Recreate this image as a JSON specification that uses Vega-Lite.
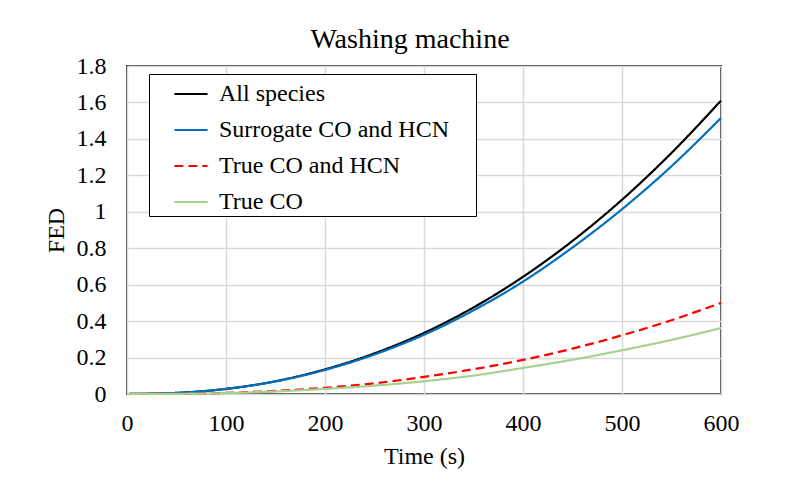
{
  "$schema": "https://vega.github.io/schema/vega-lite/v6.json",
  "width": 594,
  "height": 328,
  "autosize": "none",
  "padding": {"left": 127, "top": 66, "right": 79, "bottom": 94},
  "background": "white",
  "title": {
    "text": "Washing machine",
    "font": "Liberation Serif",
    "fontSize": 28,
    "fontWeight": "normal",
    "color": "black",
    "anchor": "middle",
    "dx": -14,
    "offset": 0
  },
  "config": {
    "view": {"stroke": "#404040", "strokeWidth": 2},
    "axis": {
      "labelFont": "Liberation Serif",
      "titleFont": "Liberation Serif",
      "labelFontSize": 24,
      "titleFontSize": 24,
      "titleFontWeight": "normal",
      "labelColor": "black",
      "titleColor": "black",
      "gridColor": "#d9d9d9",
      "gridWidth": 1.5,
      "ticks": false,
      "domain": false
    }
  },
  "data": {
    "values": [
      {"t": 0, "series": "All species", "v": 0},
      {"t": 50, "series": "All species", "v": 0.006},
      {"t": 100, "series": "All species", "v": 0.028},
      {"t": 150, "series": "All species", "v": 0.07},
      {"t": 200, "series": "All species", "v": 0.135},
      {"t": 250, "series": "All species", "v": 0.223},
      {"t": 300, "series": "All species", "v": 0.335},
      {"t": 350, "series": "All species", "v": 0.475},
      {"t": 400, "series": "All species", "v": 0.643},
      {"t": 450, "series": "All species", "v": 0.84},
      {"t": 500, "series": "All species", "v": 1.066},
      {"t": 550, "series": "All species", "v": 1.323},
      {"t": 600, "series": "All species", "v": 1.61},
      {"t": 0, "series": "Surrogate CO and HCN", "v": 0},
      {"t": 50, "series": "Surrogate CO and HCN", "v": 0.006},
      {"t": 100, "series": "Surrogate CO and HCN", "v": 0.028},
      {"t": 150, "series": "Surrogate CO and HCN", "v": 0.069},
      {"t": 200, "series": "Surrogate CO and HCN", "v": 0.132},
      {"t": 250, "series": "Surrogate CO and HCN", "v": 0.217},
      {"t": 300, "series": "Surrogate CO and HCN", "v": 0.325},
      {"t": 350, "series": "Surrogate CO and HCN", "v": 0.459},
      {"t": 400, "series": "Surrogate CO and HCN", "v": 0.617},
      {"t": 450, "series": "Surrogate CO and HCN", "v": 0.804},
      {"t": 500, "series": "Surrogate CO and HCN", "v": 1.014},
      {"t": 550, "series": "Surrogate CO and HCN", "v": 1.25},
      {"t": 600, "series": "Surrogate CO and HCN", "v": 1.515},
      {"t": 0, "series": "True CO and HCN", "v": 0},
      {"t": 50, "series": "True CO and HCN", "v": 0.001},
      {"t": 100, "series": "True CO and HCN", "v": 0.006},
      {"t": 150, "series": "True CO and HCN", "v": 0.017},
      {"t": 200, "series": "True CO and HCN", "v": 0.034},
      {"t": 250, "series": "True CO and HCN", "v": 0.059},
      {"t": 300, "series": "True CO and HCN", "v": 0.094},
      {"t": 350, "series": "True CO and HCN", "v": 0.136},
      {"t": 400, "series": "True CO and HCN", "v": 0.187},
      {"t": 450, "series": "True CO and HCN", "v": 0.249},
      {"t": 500, "series": "True CO and HCN", "v": 0.322},
      {"t": 550, "series": "True CO and HCN", "v": 0.405},
      {"t": 600, "series": "True CO and HCN", "v": 0.5},
      {"t": 0, "series": "True CO", "v": 0},
      {"t": 50, "series": "True CO", "v": 0.001},
      {"t": 100, "series": "True CO", "v": 0.005},
      {"t": 150, "series": "True CO", "v": 0.014},
      {"t": 200, "series": "True CO", "v": 0.028},
      {"t": 250, "series": "True CO", "v": 0.046},
      {"t": 300, "series": "True CO", "v": 0.07},
      {"t": 350, "series": "True CO", "v": 0.101},
      {"t": 400, "series": "True CO", "v": 0.143},
      {"t": 450, "series": "True CO", "v": 0.188},
      {"t": 500, "series": "True CO", "v": 0.24},
      {"t": 550, "series": "True CO", "v": 0.297},
      {"t": 600, "series": "True CO", "v": 0.362}
    ]
  },
  "mark": {"type": "line", "interpolate": "monotone", "strokeWidth": 2.2, "clip": false},
  "encoding": {
    "x": {
      "field": "t",
      "type": "quantitative",
      "title": "Time (s)",
      "scale": {"domain": [0, 600], "nice": false},
      "axis": {"values": [0, 100, 200, 300, 400, 500, 600], "labelPadding": 17, "titlePadding": 9, "labelFlush": false}
    },
    "y": {
      "field": "v",
      "type": "quantitative",
      "title": "FED",
      "scale": {"domain": [0, 1.8], "nice": false},
      "axis": {"values": [0, 0.2, 0.4, 0.6, 0.8, 1, 1.2, 1.4, 1.6, 1.8], "format": "~g", "labelPadding": 21, "titlePadding": 8}
    },
    "color": {
      "field": "series",
      "type": "nominal",
      "scale": {
        "domain": ["All species", "Surrogate CO and HCN", "True CO and HCN", "True CO"],
        "range": ["#000000", "#0070c0", "#ff0000", "#a9d18e"]
      },
      "legend": {
        "title": " ",
        "titleOrient": "right",
        "titlePadding": 25,
        "titleFontSize": 2,
        "orient": "none",
        "legendX": 22,
        "legendY": 8,
        "strokeColor": "black",
        "fillColor": "white",
        "padding": 2,
        "symbolType": "stroke",
        "symbolSize": 1100,
        "symbolStrokeWidth": 2.2,
        "symbolOffset": 22,
        "labelOffset": 10,
        "labelFont": "Liberation Serif",
        "labelFontSize": 24,
        "labelColor": "black",
        "labelLimit": 400,
        "rowPadding": 6
      }
    },
    "strokeDash": {
      "field": "series",
      "type": "nominal",
      "scale": {
        "domain": ["All species", "Surrogate CO and HCN", "True CO and HCN", "True CO"],
        "range": [[1, 0], [1, 0], [9, 5], [1, 0]]
      },
      "legend": null
    }
  }
}
